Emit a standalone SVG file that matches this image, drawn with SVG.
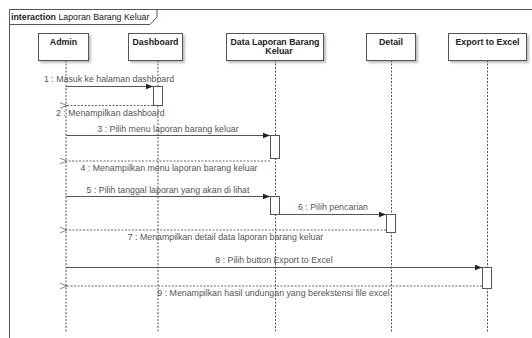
<svg xmlns="http://www.w3.org/2000/svg" width="532" height="338" viewBox="0 0 532 338">
<style>
text{font-family:"Liberation Sans",Arial,sans-serif;}
.actor rect{fill:#fff;stroke:#555;stroke-width:1;}
.actor text{font-size:8.8px;font-weight:bold;fill:#222;text-anchor:middle;}
.life{stroke:#555;stroke-width:1;stroke-dasharray:2,1.5;fill:none;}
.act{fill:#fff;stroke:#555;stroke-width:1;}
.msg{stroke:#555;stroke-width:1;fill:none;}
.ret{stroke:#666;stroke-width:1;stroke-dasharray:2,1.5;fill:none;}
.lbl{font-size:8.8px;fill:#555;}
</style>
<defs>
<filter id="sh" x="-20%" y="-20%" width="150%" height="160%">
<feDropShadow dx="2" dy="2" stdDeviation="1.2" flood-color="#000" flood-opacity="0.25"/>
</filter>
<marker id="fill" viewBox="0 0 10 10" refX="10" refY="5" markerWidth="9" markerHeight="7" orient="auto" markerUnits="userSpaceOnUse">
<path d="M0,1 L10,5 L0,9 z" fill="#222"/>
</marker>
<marker id="open" viewBox="0 0 10 10" refX="0" refY="5" markerWidth="8" markerHeight="7" orient="auto-start-reverse" markerUnits="userSpaceOnUse">
<path d="M10,1 L0,5 L10,9" fill="none" stroke="#555" stroke-width="1"/>
</marker>
</defs>
<rect width="532" height="338" fill="#fff"/>
<g id="frame">
<path d="M9.5,345 L9.5,9.5 L540,9.5" fill="none" stroke="#555" stroke-width="1"/>
<path d="M9.5,24.5 L150,24.5 L157,17 L157,9.5" fill="none" stroke="#555" stroke-width="1"/>
<text x="11" y="20" font-size="8.8" fill="#222"><tspan font-weight="bold">interaction</tspan> Laporan Barang Keluar</text>
</g>
<g id="lifelines">
<line class="life" x1="66" y1="60" x2="66" y2="332"/>
<line class="life" x1="158" y1="60" x2="158" y2="332"/>
<line class="life" x1="275.5" y1="60" x2="275.5" y2="332"/>
<line class="life" x1="391.5" y1="60" x2="391.5" y2="332"/>
<line class="life" x1="487.5" y1="60" x2="487.5" y2="332"/>
</g>
<g id="admin" class="actor"><rect x="38.5" y="33.5" width="50" height="27" filter="url(#sh)"/><text x="63.5" y="45">Admin</text></g>
<g id="dashboard" class="actor"><rect x="128.5" y="33.5" width="54" height="27" filter="url(#sh)"/><text x="155.5" y="45">Dashboard</text></g>
<g id="datalaporan" class="actor"><rect x="226.5" y="33.5" width="97" height="27" filter="url(#sh)"/><text x="275" y="45">Data Laporan Barang</text><text x="279" y="53.5">Keluar</text></g>
<g id="detail" class="actor"><rect x="366.5" y="33.5" width="49" height="27" filter="url(#sh)"/><text x="391" y="45">Detail</text></g>
<g id="export" class="actor"><rect x="448.5" y="33.5" width="78" height="27" filter="url(#sh)"/><text x="487.5" y="45">Export to Excel</text></g>
<g id="activations">
<rect class="act" x="153.5" y="86.5" width="9" height="19"/>
<rect class="act" x="270.5" y="135.5" width="9" height="23"/>
<rect class="act" x="270.5" y="196.5" width="9" height="18"/>
<rect class="act" x="386.5" y="214.5" width="9" height="18"/>
<rect class="act" x="482.5" y="267.5" width="9" height="21"/>
</g>
<g id="connectors">
<line class="msg" x1="66" y1="86.5" x2="153" y2="86.5" marker-end="url(#fill)"/>
<line class="ret" x1="153" y1="105.5" x2="67" y2="105.5" marker-end="url(#open)"/>
<line class="msg" x1="66" y1="135.5" x2="270" y2="135.5" marker-end="url(#fill)"/>
<line class="ret" x1="270" y1="161" x2="67" y2="161" marker-end="url(#open)"/>
<line class="msg" x1="66" y1="196.5" x2="270" y2="196.5" marker-end="url(#fill)"/>
<line class="msg" x1="280" y1="214.5" x2="386" y2="214.5" marker-end="url(#fill)"/>
<line class="ret" x1="386" y1="230" x2="67" y2="230" marker-end="url(#open)"/>
<line class="msg" x1="66" y1="267.5" x2="482" y2="267.5" marker-end="url(#fill)"/>
<line class="ret" x1="482" y1="286" x2="67" y2="286" marker-end="url(#open)"/>
</g>
<g id="labels">
<text class="lbl" x="44" y="82">1 : Masuk ke halaman dashboard</text>
<text class="lbl" x="56" y="116">2 : Menampilkan dashboard</text>
<text class="lbl" x="168" y="132" text-anchor="middle">3 : Pilih menu laporan barang keluar</text>
<text class="lbl" x="169" y="171" text-anchor="middle">4 : Menampilkan menu laporan barang keluar</text>
<text class="lbl" x="168" y="193" text-anchor="middle">5 : Pilih tanggal laporan yang akan di lihat</text>
<text class="lbl" x="333" y="210" text-anchor="middle">6 : Pilih pencarian</text>
<text class="lbl" x="225.5" y="239.5" text-anchor="middle">7 : Menampilkan detail data laporan barang keluar</text>
<text class="lbl" x="274" y="263" text-anchor="middle">8 : Pilih button Export to Excel</text>
<text class="lbl" x="273.5" y="296" text-anchor="middle">9 : Menampilkan hasil undungan yang berekstensi file excel</text>
</g>
</svg>
